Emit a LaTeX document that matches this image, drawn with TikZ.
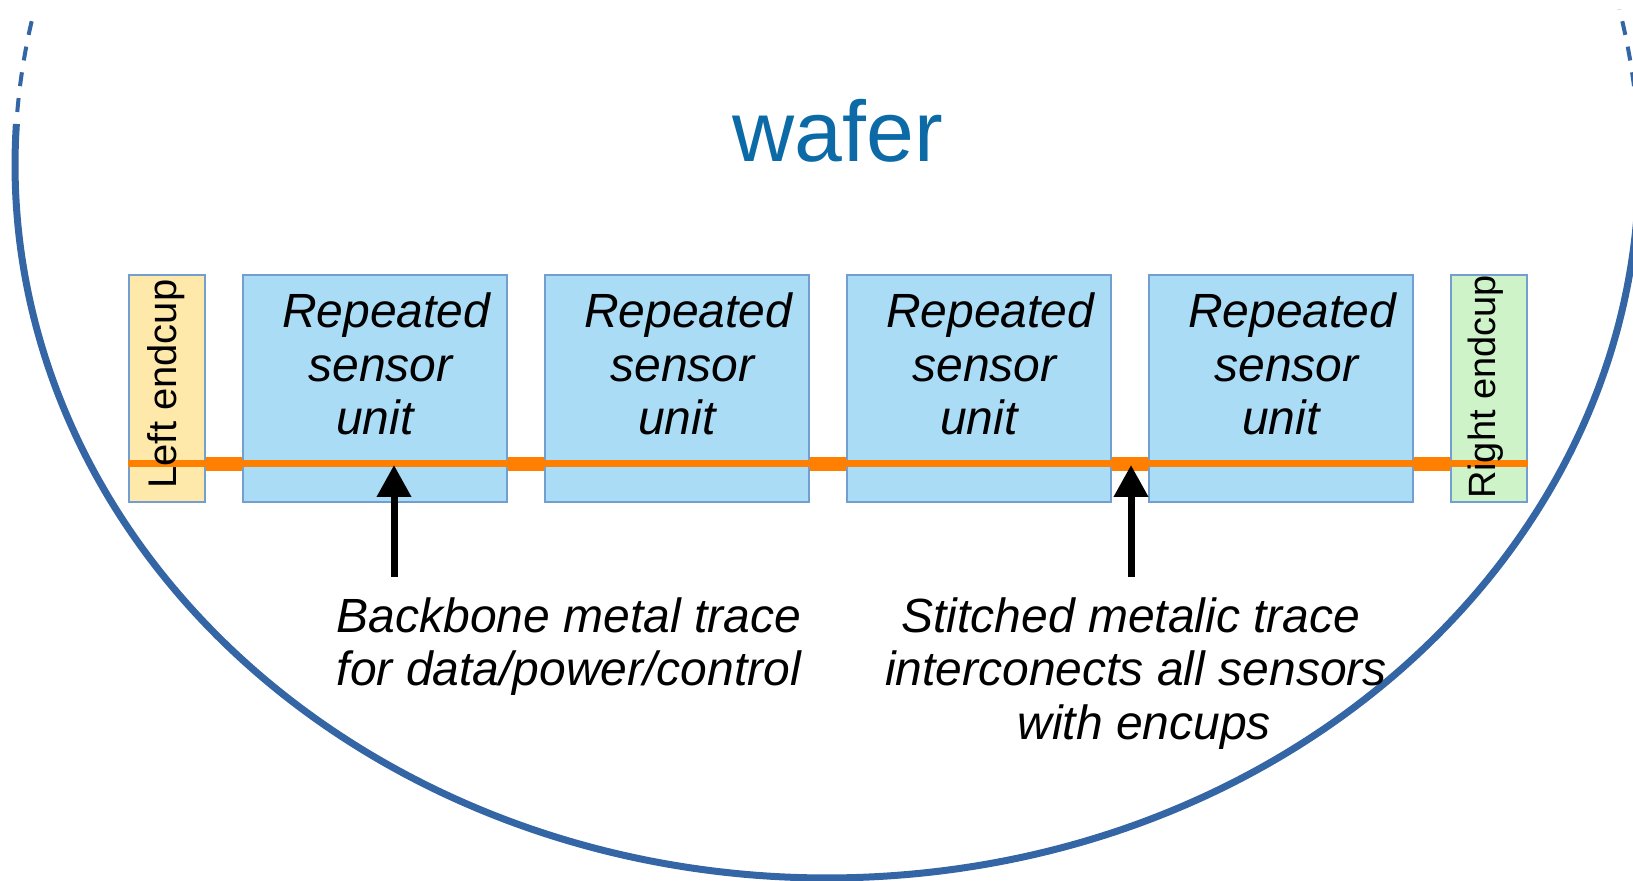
\documentclass[tikz,border=0pt]{standalone}
\usepackage{fontspec}
\setmainfont{Liberation Sans}
\usetikzlibrary{arrows.meta}
\definecolor{waferblue}{RGB}{52,101,164}
\definecolor{wafertext}{RGB}{12,106,166}
\definecolor{boxedge}{RGB}{114,159,207}
\definecolor{sensorfill}{RGB}{170,220,246}
\definecolor{leftfill}{RGB}{255,233,170}
\definecolor{rightfill}{RGB}{206,243,200}
\definecolor{traceorange}{RGB}{255,128,0}
\newcommand{\sensorlabel}{\hspace*{7.3pt}Repeated\\\hspace*{1.6pt}sensor\\unit\hspace*{4.2pt}}
\begin{document}
\begin{tikzpicture}[x=0.5pt,y=-0.5pt,
  sensorbox/.style={draw=boxedge, line width=0.75pt, fill=sensorfill, minimum width=132pt, minimum height=113.5pt, inner sep=0pt},
  capbox/.style={draw=boxedge, line width=0.75pt, minimum width=38pt, minimum height=113.5pt, inner sep=0pt},
  sensortext/.style={font=\fontsize{24}{26.75}\selectfont\itshape, align=center, anchor=base, inner sep=0pt},
  captext/.style={rotate=90, anchor=base, inner sep=0pt},
  thintrace/.style={draw=traceorange, line width=3.5pt},
  thicktrace/.style={draw=traceorange, line width=7pt},
  pointer/.style={draw=black, line width=3.5pt, -{Triangle[length=16pt,width=16.5pt]}},
  labeltext/.style={font=\fontsize{24}{26.75}\selectfont\itshape, align=center, anchor=base, inner sep=0pt},
  waferline/.style={draw=waferblue, line width=3.5pt},
  waferdash/.style={draw=waferblue, line width=2pt, dash pattern=on 7pt off 6pt, dash phase=7pt},
]
\useasboundingbox (0,0) rectangle (1633,881);
\begin{scope}
  \clip (0,0) rectangle (1633,881);
  \draw[waferline] ([shift={(-3.3:812 and 713)}]827,165) arc[start angle=-3.3, end angle=183.3, x radius=812, y radius=713];
  \draw[waferdash] ([shift={(183.3:812 and 713)}]827,165) arc[start angle=183.3, end angle=192, x radius=812, y radius=713];
  \draw[waferdash] ([shift={(-3.3:812 and 713)}]827,165) arc[start angle=-3.3, end angle=-12.6, x radius=812, y radius=713];
\end{scope}

\node[font=\fontsize{43}{50}\selectfont, text=wafertext, anchor=base, inner sep=0pt] (wafer) at (838,162) {wafer};

\node[capbox, fill=leftfill] (L) at (167,388.5) {};
\node[sensorbox] (S1) at (375,388.5) {};
\node[sensorbox] (S2) at (677,388.5) {};
\node[sensorbox] (S3) at (979,388.5) {};
\node[sensorbox] (S4) at (1281,388.5) {};
\node[capbox, fill=rightfill] (R) at (1489,388.5) {};

\coordinate (tr) at (0,464);
\draw[thintrace] (L.west |- tr) -- (R.east |- tr);
\foreach \a/\b in {L/S1,S1/S2,S2/S3,S3/S4,S4/R}
  \draw[thicktrace] (\a.east |- tr) -- (\b.west |- tr);

\node[captext, font=\fontsize{20}{24}\selectfont] (Lt) at (176,384) {Left endcup};
\node[captext, font=\fontsize{19}{22}\selectfont] (Rt) at (1495,387) {Right endcup};

\node[sensortext] (T1) at (379,435) {\sensorlabel};
\node[sensortext] (T2) at (681,435) {\sensorlabel};
\node[sensortext] (T3) at (983,435) {\sensorlabel};
\node[sensortext] (T4) at (1285,435) {\sensorlabel};

\node[labeltext] (lab1) at (569,685.5) {Backbone metal trace\\for data/power/control};
\node[labeltext] (lab2) at (1136,739) {Stitched metalic trace\hspace*{5.2pt}\\interconects all sensors\\\hspace*{8.3pt}with encups};

\coordinate (a1s) at (394,577);
\coordinate (a1e) at (394,465);
\coordinate (a2s) at (1131,577);
\coordinate (a2e) at (1131,465);
\draw[pointer] (a1s) -- (a1e);
\draw[pointer] (a2s) -- (a2e);
\end{tikzpicture}
\end{document}
